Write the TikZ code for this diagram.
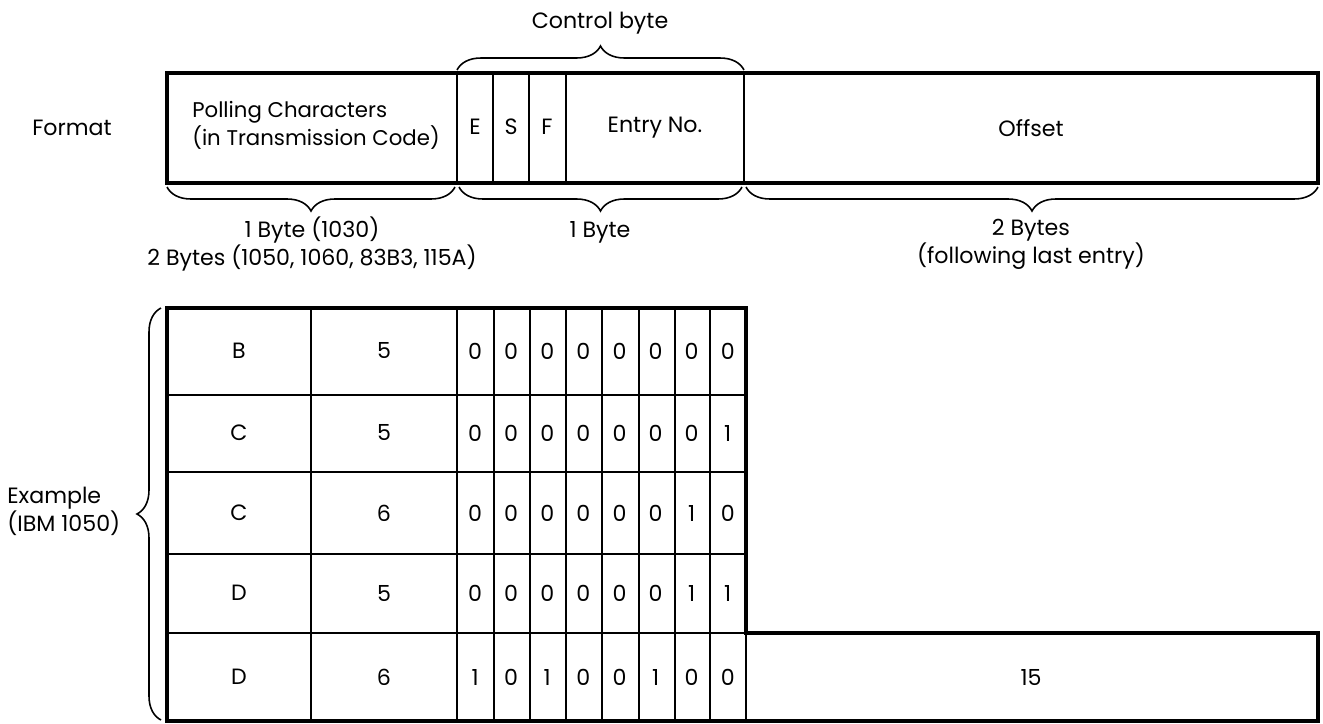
\documentclass[tikz,border=0pt]{standalone}
\usepackage{fontspec}
\setmainfont{Poppins}
\usetikzlibrary{decorations.pathreplacing,calc}

\begin{document}
\begin{tikzpicture}[x=0.02cm,y=-0.02cm,
  frame/.style={line width=1.8pt},
  rule/.style={line width=0.7pt},
  brc/.style={decorate,decoration={brace,amplitude=0.48cm},line width=0.9pt},
  lbl/.style={font=\fontsize{12.6}{14}\selectfont,inner sep=0pt}]
  \useasboundingbox (0,0) rectangle (1323,724);
  % format record
  \draw[frame] (167,73) rectangle (1318,183);
  \foreach \x in {457,493,529,566,744} \draw[rule] (\x,73) -- (\x,183);
  \node[lbl] (fmt) at (72,128) {Format};
  \node[lbl,align=left,anchor=west,font=\fontsize{12.1}{16}\selectfont] (poll) at (192,125)
    {Polling Characters\\(in Transmission Code)};
  \node[lbl] (e) at (475,127) {E};
  \node[lbl] (s) at (511,127) {S};
  \node[lbl] (f) at (547,127) {F};
  \node[lbl] (entry) at (655,128) {Entry No.};
  \node[lbl] (offset) at (1031,128) {Offset};
  \draw[brc] (457,70) -- (744,70);
  \node[lbl] (ctrl) at (600,23) {Control byte};
  \draw[brc] (455,187) -- (167,187);
  \draw[brc] (742,187) -- (459,187);
  \draw[brc] (1318,187) -- (746,187);
  \node[lbl,align=center] (szpoll) at (312,244) {1 Byte (1030)\\2 Bytes (1050, 1060, 83B3, 115A)};
  \node[lbl] (szctrl) at (600,232) {1 Byte};
  \node[lbl,align=center] (szoff) at (1031,244) {2 Bytes\\(following last entry)};
  % example table
  \draw[frame] (167,721) -- (167,308) -- (746,308) -- (746,633) -- (1318,633) -- (1318,721) -- cycle;
  \foreach \y in {395,472,554,633} \draw[rule] (167,\y) -- (746,\y);
  \foreach \x in {311,457,494,530,566,602,639,675,710} \draw[rule] (\x,308) -- (\x,721);
  \draw[rule] (746,633) -- (746,721);
  \foreach \yc/\ch/\dg/\bits [count=\r] in {351/B/5/{0,0,0,0,0,0,0,0},
      433/C/5/{0,0,0,0,0,0,0,1}, 513/C/6/{0,0,0,0,0,0,1,0},
      593/D/5/{0,0,0,0,0,0,1,1}, 677/D/6/{1,0,1,0,0,1,0,0}} {
    \node[lbl] (ch\r) at (239,\yc) {\ch};
    \node[lbl] (dg\r) at (384,\yc) {\dg};
    \foreach \b [count=\c] in \bits
      \node[lbl] (b\r-\c) at ({438.95+36.1*\c},\yc) {\b};
  }
  \node[lbl] (off15) at (1031,677) {15};
  \draw[brc] (161,720) -- (161,308);
  \node[lbl,align=left,anchor=west] (ex) at (7,511) {Example\\(IBM 1050)};
\end{tikzpicture}
\end{document}
